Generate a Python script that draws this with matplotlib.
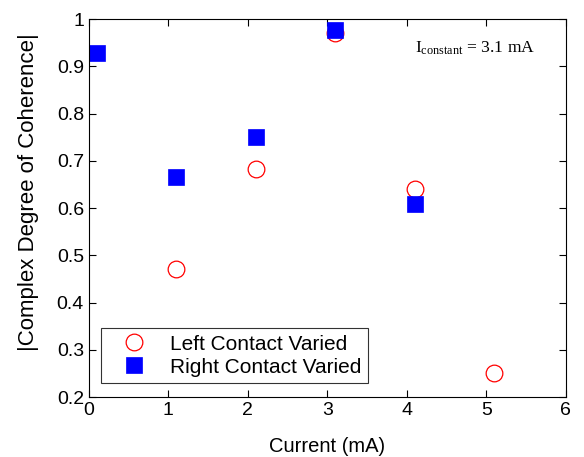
import matplotlib.pyplot as plt
from matplotlib.ticker import FuncFormatter

# Left contact varied (red open circles)
courant_gauche = [1.1, 2.1, 3.1, 4.1, 5.1]
coherence_gauche = [0.472, 0.683, 0.970, 0.641, 0.252]

# Right contact varied (blue filled squares)
courant_droite = [0.1, 1.1, 2.1, 3.1, 4.1]
coherence_droite = [0.928, 0.666, 0.750, 0.977, 0.609]

plt.rcParams['font.family'] = ['Liberation Sans', 'DejaVu Sans']

fig = plt.figure(figsize=(5.84, 4.57), dpi=100)
ax = fig.add_axes([0.152, 0.131, 0.817, 0.827])

ax.plot(courant_gauche, coherence_gauche, linestyle='none', marker='o', markersize=12,
        markerfacecolor='none', markeredgecolor='#ff0000', markeredgewidth=0.9,
        label='Left Contact Varied')
ax.plot(courant_droite, coherence_droite, linestyle='none', marker='s', markersize=11.5,
        markerfacecolor='#0000ff', markeredgecolor='#0000ff', markeredgewidth=0.5,
        label='Right Contact Varied')

ax.set_xlim(0, 6)
ax.set_ylim(0.2, 1)
ax.set_xticks(range(0, 7))
ax.set_yticks([0.2, 0.3, 0.4, 0.5, 0.6, 0.7, 0.8, 0.9, 1.0])
ax.yaxis.set_major_formatter(FuncFormatter(lambda v, p: f'{v:g}'))
ax.tick_params(direction='in', top=True, right=True, labelsize=14, length=5, width=0.8)

ax.set_xlabel('Current (mA)', fontsize=14.5, labelpad=13)
ax.set_ylabel('|Complex Degree of Coherence|', fontsize=16)
ax.yaxis.set_label_coords(-0.105, 0.542)

ax.text(4.86, 0.939, r'$\mathregular{I_{constant}}$ = 3.1 mA', fontsize=12.6,
        family=['Liberation Serif', 'DejaVu Serif'], ha='center', va='center')

leg = ax.legend(loc='lower left', fontsize=15, frameon=True, fancybox=False,
                borderpad=0.3, labelspacing=0.2, handlelength=2.6, handletextpad=0.45,
                bbox_to_anchor=(0.003, 0.01))
leg.get_frame().set_edgecolor('black')
leg.get_frame().set_linewidth(0.8)

fig.savefig('out.png', dpi=100)
